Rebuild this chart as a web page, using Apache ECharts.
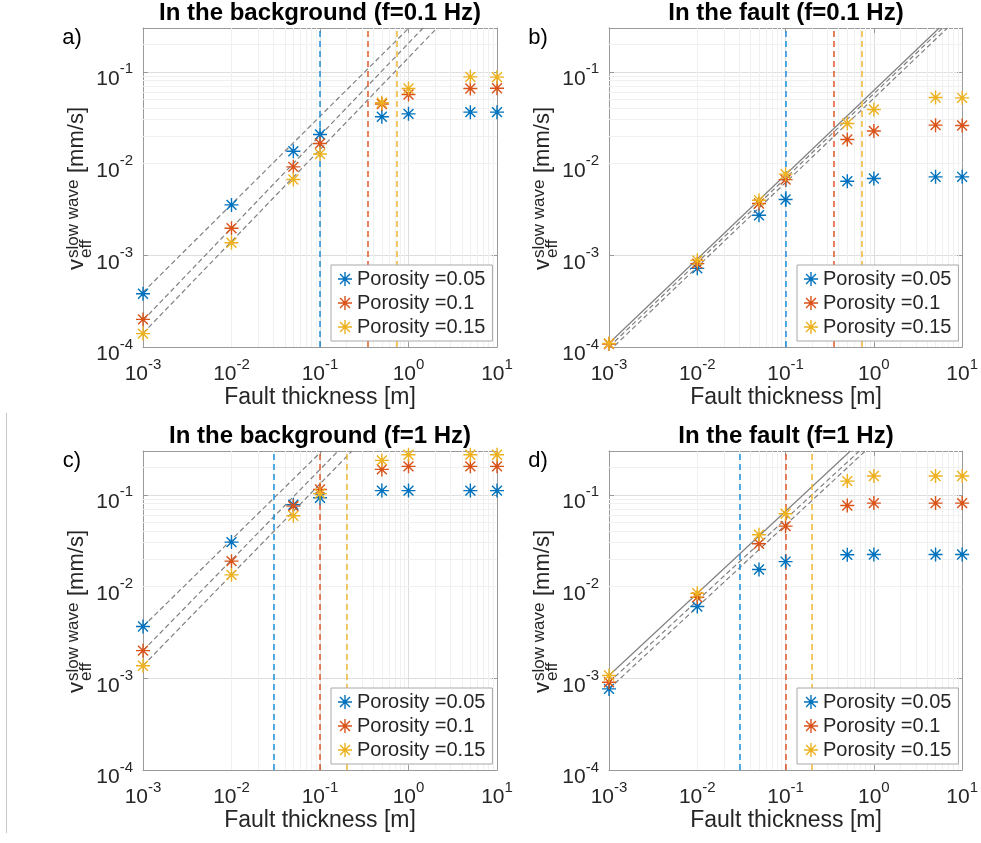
<!DOCTYPE html>
<html><head><meta charset="utf-8">
<script src="https://cdn.jsdelivr.net/npm/echarts@6/dist/echarts.min.js"></script>
<style>html,body{margin:0;padding:0;background:#fff}#c{width:981px;height:843px}</style>
</head><body><div id="c"></div>
<script>
const FONT = '"Liberation Sans", Helvetica, Arial, sans-serif';

// ---------- data ----------
const thickness = [0.001, 0.01, 0.05, 0.1, 0.5, 1, 5, 10];
const porosityNames = ['Porosity =0.05', 'Porosity =0.1', 'Porosity =0.15'];

// a) background, f = 0.1 Hz
const aBlue   = [3.8e-4, 3.54e-3, 1.36e-2, 2.07e-2, 3.23e-2, 3.48e-2, 3.63e-2, 3.63e-2];
const aOrange = [2.0e-4, 1.97e-3, 9.2e-3, 1.65e-2, 4.45e-2, 5.66e-2, 6.58e-2, 6.62e-2];
const aYellow = [1.4e-4, 1.37e-3, 6.7e-3, 1.27e-2, 4.59e-2, 6.58e-2, 8.8e-2, 8.75e-2];
const aFitBlue   = [[0.001, 3.95e-4], [1.01, 0.3]];
const aFitOrange = [[0.001, 1.95e-4], [1.46, 0.3]];
const aFitYellow = [[0.001, 1.41e-4], [2.1, 0.3]];
const aVLines = [0.095, 0.347, 0.735];

// b) fault, f = 0.1 Hz
const bBlue   = [0.9e-4, 7.2e-4, 2.73e-3, 4.05e-3, 6.4e-3, 6.86e-3, 7.16e-3, 7.16e-3];
const bOrange = [1.08e-4, 8.1e-4, 3.67e-3, 6.68e-3, 1.83e-2, 2.26e-2, 2.62e-2, 2.6e-2];
const bYellow = [1.09e-4, 8.8e-4, 3.98e-3, 7.66e-3, 2.73e-2, 3.88e-2, 5.25e-2, 5.2e-2];
const bFitBlue   = [[0.001, 0.9e-4], [6.8, 0.3]];
const bFitOrange = [[0.001, 1.0e-4], [6.0, 0.3]];
const bFitYellow = [[0.001, 1.1e-4], [5.5, 0.3]];
const bVLines = [0.095, 0.347, 0.735];

// c) background, f = 1 Hz
const cBlue   = [3.66e-3, 3.05e-2, 7.78e-2, 9.27e-2, 0.111, 0.111, 0.111, 0.111];
const cOrange = [2.0e-3, 1.89e-2, 7.52e-2, 0.114, 0.189, 0.204, 0.204, 0.204];
const cYellow = [1.37e-3, 1.34e-2, 5.9e-2, 0.103, 0.237, 0.273, 0.273, 0.273];
const cFitBlue   = [[0.001, 3.66e-3], [0.105, 0.3]];
const cFitOrange = [[0.001, 2.0e-3], [0.16, 0.3]];
const cFitYellow = [[0.001, 1.37e-3], [0.23, 0.3]];
const cVLines = [0.03, 0.1, 0.2];

// d) fault, f = 1 Hz
const dBlue   = [7.66e-4, 6.05e-3, 1.53e-2, 1.87e-2, 2.22e-2, 2.23e-2, 2.23e-2, 2.23e-2];
const dOrange = [9.04e-4, 7.65e-3, 2.92e-2, 4.55e-2, 7.65e-2, 8.11e-2, 8.11e-2, 8.11e-2];
const dYellow = [1.07e-3, 8.45e-3, 3.66e-2, 6.2e-2, 0.141, 0.16, 0.16, 0.16];
const dFitBlue   = [[0.001, 7.66e-4], [0.80, 0.3]];
const dFitOrange = [[0.001, 9.04e-4], [0.685, 0.3]];
const dFitYellow = [[0.001, 1.07e-3], [0.542, 0.3]];
const dVLines = [0.03, 0.1, 0.2];

const titles = ['In the background (f=0.1 Hz)', 'In the fault (f=0.1 Hz)', 'In the background (f=1 Hz)', 'In the fault (f=1 Hz)'];
const tags = ['a)', 'b)', 'c)', 'd)'];
const xName = 'Fault thickness [m]';
const minorMantissas = [2, 3, 4, 5, 6, 7, 8, 9];
const xDecades = [-3, -2, -1, 0];
const yDecades = [-4, -3, -2, -1];

// ---------- style ----------
const colors = ['#0072BD', '#D95319', '#EDB120'];
const vColors = ['#1f8fdc', '#e0592a', '#efb836'];
const STAR = 'path://M0 9 L20 9 L20 11 L0 11 Z M9 0 L11 0 L11 20 L9 20 Z M3.64 2.22 L17.78 16.36 L16.36 17.78 L2.22 3.64 Z M17.78 3.64 L3.64 17.78 L2.22 16.36 L16.36 2.22 Z';
const XMIN = 1e-3, XMAX = 10, YMIN = 1e-4, YMAX = 0.3;

const panels = [
  {vals: [aBlue, aOrange, aYellow], fits: [aFitBlue, aFitOrange, aFitYellow], fitSolid: [false, false, false], vlines: aVLines},
  {vals: [bBlue, bOrange, bYellow], fits: [bFitBlue, bFitOrange, bFitYellow], fitSolid: [false, false, true], vlines: bVLines},
  {vals: [cBlue, cOrange, cYellow], fits: [cFitBlue, cFitOrange, cFitYellow], fitSolid: [false, false, false], vlines: cVLines},
  {vals: [dBlue, dOrange, dYellow], fits: [dFitBlue, dFitOrange, dFitYellow], fitSolid: [false, false, true], vlines: dVLines}
];
const layout = [
  {left: 143, top: 28}, {left: 609, top: 28}, {left: 143, top: 451}, {left: 609, top: 451}
];
const W = 354, H = 319;

const xMinor = [], yMinor = [];
xDecades.forEach(k => minorMantissas.forEach(m => xMinor.push(m * Math.pow(10, k))));
yDecades.forEach(k => minorMantissas.forEach(m => { const v = m * Math.pow(10, k); if (v < YMAX * 0.999) yMinor.push(v); }));

function powLabel(v) {
  const e = Math.log10(v);
  const r = Math.round(e);
  if (Math.abs(e - r) > 1e-6) return '';
  return '{b|10}{s|' + r + '}';
}
const tickRich = {
  b: {fontSize: 21, fontFamily: FONT, color: '#262626', lineHeight: 28, verticalAlign: 'bottom'},
  s: {fontSize: 15, fontFamily: FONT, color: '#262626', lineHeight: 17, verticalAlign: 'top'}
};
const axisLineStyle = {color: '#9a9a9a', width: 1};

const grid = [], xAxis = [], yAxis = [], series = [], legend = [], graphic = [];

panels.forEach((p, i) => {
  const L = layout[i];
  grid.push({left: L.left, top: L.top, width: W, height: H});
  xAxis.push({type: 'log', logBase: 10, gridIndex: i, min: XMIN, max: XMAX, position: 'bottom',
    axisLine: {show: true, onZero: false, lineStyle: axisLineStyle},
    axisTick: {show: true, inside: true, length: 5, lineStyle: axisLineStyle},
    splitLine: {show: true, lineStyle: {color: '#dedede', width: 1}},
    axisLabel: {margin: 10, formatter: powLabel, rich: tickRich}});
  xAxis.push({type: 'log', logBase: 10, gridIndex: i, min: XMIN, max: XMAX, position: 'top',
    axisLine: {show: true, onZero: false, lineStyle: axisLineStyle},
    axisTick: {show: true, inside: true, length: 5, lineStyle: axisLineStyle},
    splitLine: {show: false}, axisLabel: {show: false}});
  yAxis.push({type: 'log', logBase: 10, gridIndex: i, min: YMIN, max: YMAX, position: 'left',
    axisLine: {show: true, onZero: false, lineStyle: axisLineStyle},
    axisTick: {show: true, inside: true, length: 5, lineStyle: axisLineStyle},
    splitLine: {show: true, lineStyle: {color: '#dedede', width: 1}},
    axisLabel: {margin: 10, padding: [8, 0, 0, 0], formatter: powLabel, rich: tickRich, showMaxLabel: false}});
  yAxis.push({type: 'log', logBase: 10, gridIndex: i, min: YMIN, max: YMAX, position: 'right',
    axisLine: {show: true, onZero: false, lineStyle: axisLineStyle},
    axisTick: {show: true, inside: true, length: 5, lineStyle: axisLineStyle},
    splitLine: {show: false}, axisLabel: {show: false}});

  const axes = {xAxisIndex: 2 * i, yAxisIndex: 2 * i};
  p.fits.forEach((f, j) => {
    const s = {type: 'line', ...axes, data: f, symbol: 'none', silent: true, z: 2, clip: true,
      lineStyle: {color: '#808080', width: 1.2, type: p.fitSolid[j] ? 'solid' : [5, 3]}};
    if (j === 0) {
      s.markLine = {silent: true, z: 1, symbol: ['none', 'none'], animation: false, label: {show: false},
        lineStyle: {color: '#f0f0f0', width: 1, type: 'solid'},
        data: xMinor.map(v => ({xAxis: v})).concat(yMinor.map(v => ({yAxis: v})))};
    }
    if (j === 1) {
      s.markLine = {silent: true, z: 3, symbol: ['none', 'none'], animation: false, label: {show: false},
        data: p.vlines.map((v, k) => ({xAxis: v, lineStyle: {color: vColors[k], width: 1.5, type: [6, 4]}}))};
    }
    series.push(s);
  });
  p.vals.forEach((vals, j) => {
    series.push({type: 'scatter', name: porosityNames[j], ...axes, silent: true, z: 4,
      data: thickness.map((x, k) => [x, vals[k]]),
      symbol: STAR, symbolSize: 14, itemStyle: {color: colors[j], opacity: 1}});
  });

  legend.push({data: porosityNames, orient: 'vertical', left: L.left + 188, top: L.top + 237,
    backgroundColor: '#fff', borderColor: '#a8a8a8', borderWidth: 1, borderRadius: 0,
    padding: [4, 7, 4, 7], itemWidth: 14, itemHeight: 14, itemGap: 4, icon: STAR,
    selectedMode: false, textStyle: {fontSize: 20, lineHeight: 20, color: '#262626', fontFamily: FONT}});

  const cx = L.left + W / 2;
  graphic.push({type: 'text', x: cx, y: L.top - 15, style: {text: titles[i], font: 'bold 24px ' + FONT, fill: '#000', align: 'center', verticalAlign: 'middle'}});
  graphic.push({type: 'text', x: cx, y: L.top + H + 51, style: {text: xName, font: '23px ' + FONT, fill: '#262626', align: 'center', verticalAlign: 'middle'}});
  graphic.push({type: 'text', x: L.left - 71, y: L.top + 10, style: {text: tags[i], font: '22px ' + FONT, fill: '#000', align: 'center', verticalAlign: 'middle'}});
  const gx = L.left - 66, gy = L.top + 159;
  graphic.push({type: 'group', x: gx, y: gy, rotation: Math.PI / 2, children: [
    {type: 'text', x: -83, y: 0.3, style: {text: 'v', font: '22px ' + FONT, fill: '#262626', align: 'left', verticalAlign: 'middle'}},
    {type: 'text', x: -71, y: -3.2, style: {text: 'slow wave', font: '17px ' + FONT, fill: '#262626', align: 'left', verticalAlign: 'middle'}},
    {type: 'text', x: -71, y: 9.2, style: {text: 'eff', font: '17px ' + FONT, fill: '#262626', align: 'left', verticalAlign: 'middle'}},
    {type: 'text', x: 14, y: 0.3, style: {text: '[mm/s]', font: '22px ' + FONT, fill: '#262626', align: 'left', verticalAlign: 'middle'}}
  ]});
});
graphic.push({type: 'line', shape: {x1: 6.5, y1: 413, x2: 6.5, y2: 833}, style: {stroke: '#c8c8c8', lineWidth: 1}});

const chart = echarts.init(document.getElementById('c'), null, {renderer: 'canvas'});
chart.setOption({animation: false, backgroundColor: '#fff', grid, xAxis, yAxis, series, legend, graphic});
</script>
</body></html>
